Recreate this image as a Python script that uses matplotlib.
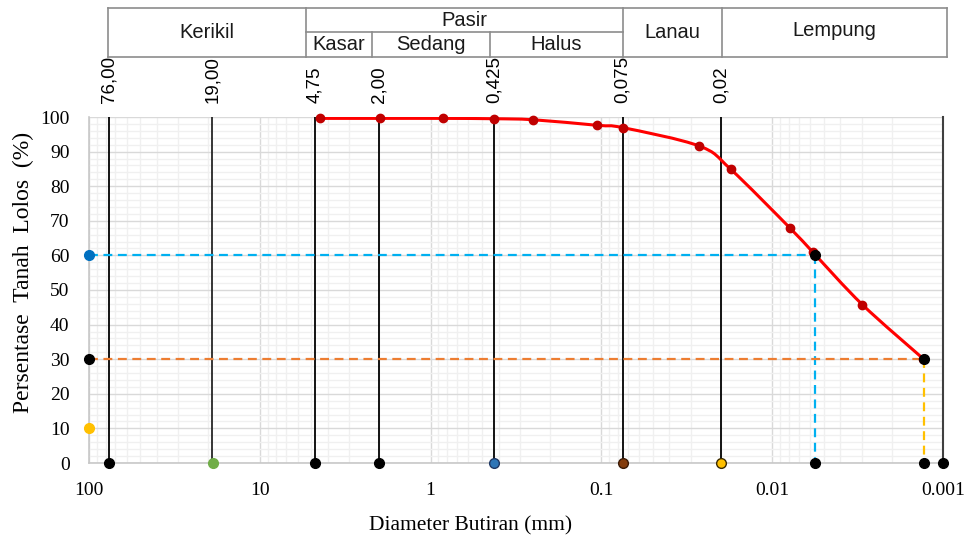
import numpy as np
import matplotlib.pyplot as plt
from matplotlib.path import Path
from matplotlib.patches import PathPatch
from matplotlib.lines import Line2D
from matplotlib.ticker import FixedLocator, NullFormatter

# Data
diameter = [4.45, 1.97, 0.85, 0.425, 0.25, 0.106, 0.0745, 0.0267, 0.0175, 0.00783, 0.0058, 0.00297, 0.00131]
passing = [99.6, 99.6, 99.6, 99.5, 99.2, 97.6, 96.9, 91.6, 84.9, 67.8, 61.0, 45.8, 30.2]

sieve_lines = [76.0, 19.0, 4.75, 2.0, 0.425, 0.075, 0.02]
sieve_labels = ['76,00', '19,00', '4,75', '2,00', '0,425', '0,075', '0,02']
line_colors = ['black', '#262626', 'black', 'black', 'black', 'black', 'black']

base_x = [76.0, 18.9, 4.75, 2.0, 0.425, 0.075, 0.02, 0.0056, 0.0013, 0.001]
base_colors = ['black', '#70ad47', 'black', 'black', '#2e75b6', '#843c0c', '#ffc000', 'black', 'black', 'black']
base_edges = ['black', '#70ad47', 'black', 'black', '#1f3864', '#3b1a05', '#3a2a00', 'black', 'black', 'black']

d60, d30 = 0.0056, 0.0013
left_y = [60, 30, 10]
left_colors = ['#0070c0', 'black', '#ffc000']

xticks = [100, 10, 1, 0.1, 0.01, 0.001]
xtick_labels = ['100', '10', '1', '0.1', '0.01', '0.001']

# table header: (text, x0, x1, y0, y1) in pixels
table_cells = [
    ('Kerikil', 108, 306, 8, 57),
    ('Pasir', 306, 623, 8, 32),
    ('Kasar', 306, 372, 32, 57),
    ('Sedang', 372, 490, 32, 57),
    ('Halus', 490, 623, 32, 57),
    ('Lanau', 623, 722, 8, 57),
    ('Lempung', 722, 947, 8, 53),
]

W, H = 972, 536
fig = plt.figure(figsize=(W / 100, H / 100), dpi=100)
ax = fig.add_axes([89 / W, 1 - 463 / H, (943 - 89) / W, (463 - 117) / H])

serif = 'Liberation Serif'
sans = 'Liberation Sans'

ax.set_xscale('log')
ax.set_xlim(100, 0.001)
ax.set_ylim(0, 100)

# grid
ax.yaxis.set_major_locator(FixedLocator(np.arange(0, 101, 10)))
ax.yaxis.set_minor_locator(FixedLocator(np.arange(0, 101, 2)))
ax.xaxis.set_major_locator(FixedLocator(xticks))
minor_x = [m * 10.0 ** e for e in range(-3, 2) for m in range(2, 10)]
ax.xaxis.set_minor_locator(FixedLocator(minor_x))
ax.xaxis.set_minor_formatter(NullFormatter())
ax.set_xticklabels(xtick_labels)
ax.grid(which='minor', color='#f0f0f0', lw=1.0, zorder=0)
ax.grid(which='major', color='#d9d9d9', lw=1.0, zorder=0)
ax.set_axisbelow(True)
ax.tick_params(which='both', length=0)
ax.tick_params(axis='y', pad=14)
ax.tick_params(axis='x', pad=14)
for lab in ax.get_xticklabels() + ax.get_yticklabels():
    lab.set_fontfamily(serif)
    lab.set_fontsize(14)
for s in ['top', 'right']:
    ax.spines[s].set_visible(False)
for s in ['left', 'bottom']:
    ax.spines[s].set_color('#c8c8c8')
    ax.spines[s].set_linewidth(1.2)

ax.set_xlabel('Diameter Butiran (mm)', fontfamily=serif, fontsize=15.5)
ax.xaxis.set_label_coords(0.447, -0.155)
ax.set_ylabel('Persentase  Tanah  Lolos  (%)', fontfamily=serif, fontsize=17)
ax.yaxis.set_label_coords(-0.064, 0.55)

# vertical sieve lines
for xv, c in zip(sieve_lines, line_colors):
    ax.plot([xv, xv], [0, 100], color=c, lw=1.3, zorder=2)
ax.plot([0.001, 0.001], [0, 100], color='#404040', lw=1.5, zorder=2, clip_on=False)

# D60 / D30 guides
ax.plot([100, d60], [60, 60], color='#00b0f0', lw=1.6, dashes=(4, 2.5), zorder=3)
ax.plot([d60, d60], [60, 0], color='#00b0f0', lw=1.6, dashes=(4, 2.5), zorder=3)
ax.plot([100, d30], [30, 30], color='#ed7d31', lw=1.6, dashes=(4, 2.5), zorder=3)
ax.plot([d30, d30], [30, 0], color='#ffc000', lw=1.6, dashes=(4, 2.5), zorder=3)

# smoothed grading curve (Catmull-Rom style bezier in log-x space)
lx = np.log10(diameter)
py = np.array(passing)
pts = np.column_stack([lx, py])
verts = [pts[0]]
codes = [Path.MOVETO]
n = len(pts)
for i in range(n - 1):
    p0 = pts[max(i - 1, 0)]
    p1 = pts[i]
    p2 = pts[i + 1]
    p3 = pts[min(i + 2, n - 1)]
    c1 = p1 + (p2 - p0) / 6
    c2 = p2 - (p3 - p1) / 6
    verts += [c1, c2, p2]
    codes += [Path.CURVE4] * 3
verts = np.array(verts)
verts[:, 0] = 10 ** verts[:, 0]
ax.add_patch(PathPatch(Path(verts, codes), facecolor='none', edgecolor='#ff0000', lw=2.2, zorder=4))
ax.plot(diameter, passing, 'o', color='#c00000', ms=6, zorder=5, clip_on=False)

# markers
ax.plot([d60], [60], 'o', color='black', ms=7, zorder=6)
ax.plot([d30], [30], 'o', color='black', ms=7, zorder=6, clip_on=False)
for xv, c, e in zip(base_x, base_colors, base_edges):
    ax.plot([xv], [0], 'o', color=c, mec=e, mew=1.0, ms=7, zorder=6, clip_on=False)
for yv, c in zip(left_y, left_colors):
    ax.plot([100], [yv], 'o', color=c, ms=7, zorder=6, clip_on=False)

# top rotated sieve labels
ax2 = ax.twiny()
ax2.set_xscale('log')
ax2.set_xlim(ax.get_xlim())
ax2.xaxis.set_major_locator(FixedLocator(sieve_lines))
ax2.xaxis.set_minor_locator(FixedLocator([]))
ax2.set_xticklabels(sieve_labels, rotation=90, fontfamily=sans, fontsize=13.5)
ax2.tick_params(length=0, pad=10)
for s in ax2.spines.values():
    s.set_visible(False)

# header table drawn in figure coordinates
def fx(px):
    return px / W

def fy(py_):
    return 1 - py_ / H

border = '#8c8c8c'
segments = [
    ((108, 947), (8, 8)), ((108, 947), (57, 57)),
    ((108, 108), (8, 57)), ((947, 947), (8, 57)),
    ((306, 306), (8, 57)), ((623, 623), (8, 57)), ((722, 722), (8, 57)),
    ((306, 623), (32, 32)), ((372, 372), (32, 57)), ((490, 490), (32, 57)),
]
for xs, ys in segments:
    fig.add_artist(Line2D([fx(xs[0]), fx(xs[1])], [fy(ys[0]), fy(ys[1])],
                          color=border, lw=1.2, transform=fig.transFigure))
for text, x0, x1, y0, y1 in table_cells:
    fig.text(fx((x0 + x1) / 2), fy((y0 + y1) / 2), text, ha='center', va='center',
             fontfamily=sans, fontsize=14.5, color='#1a1a1a')

fig.savefig('out.png', dpi=100)
